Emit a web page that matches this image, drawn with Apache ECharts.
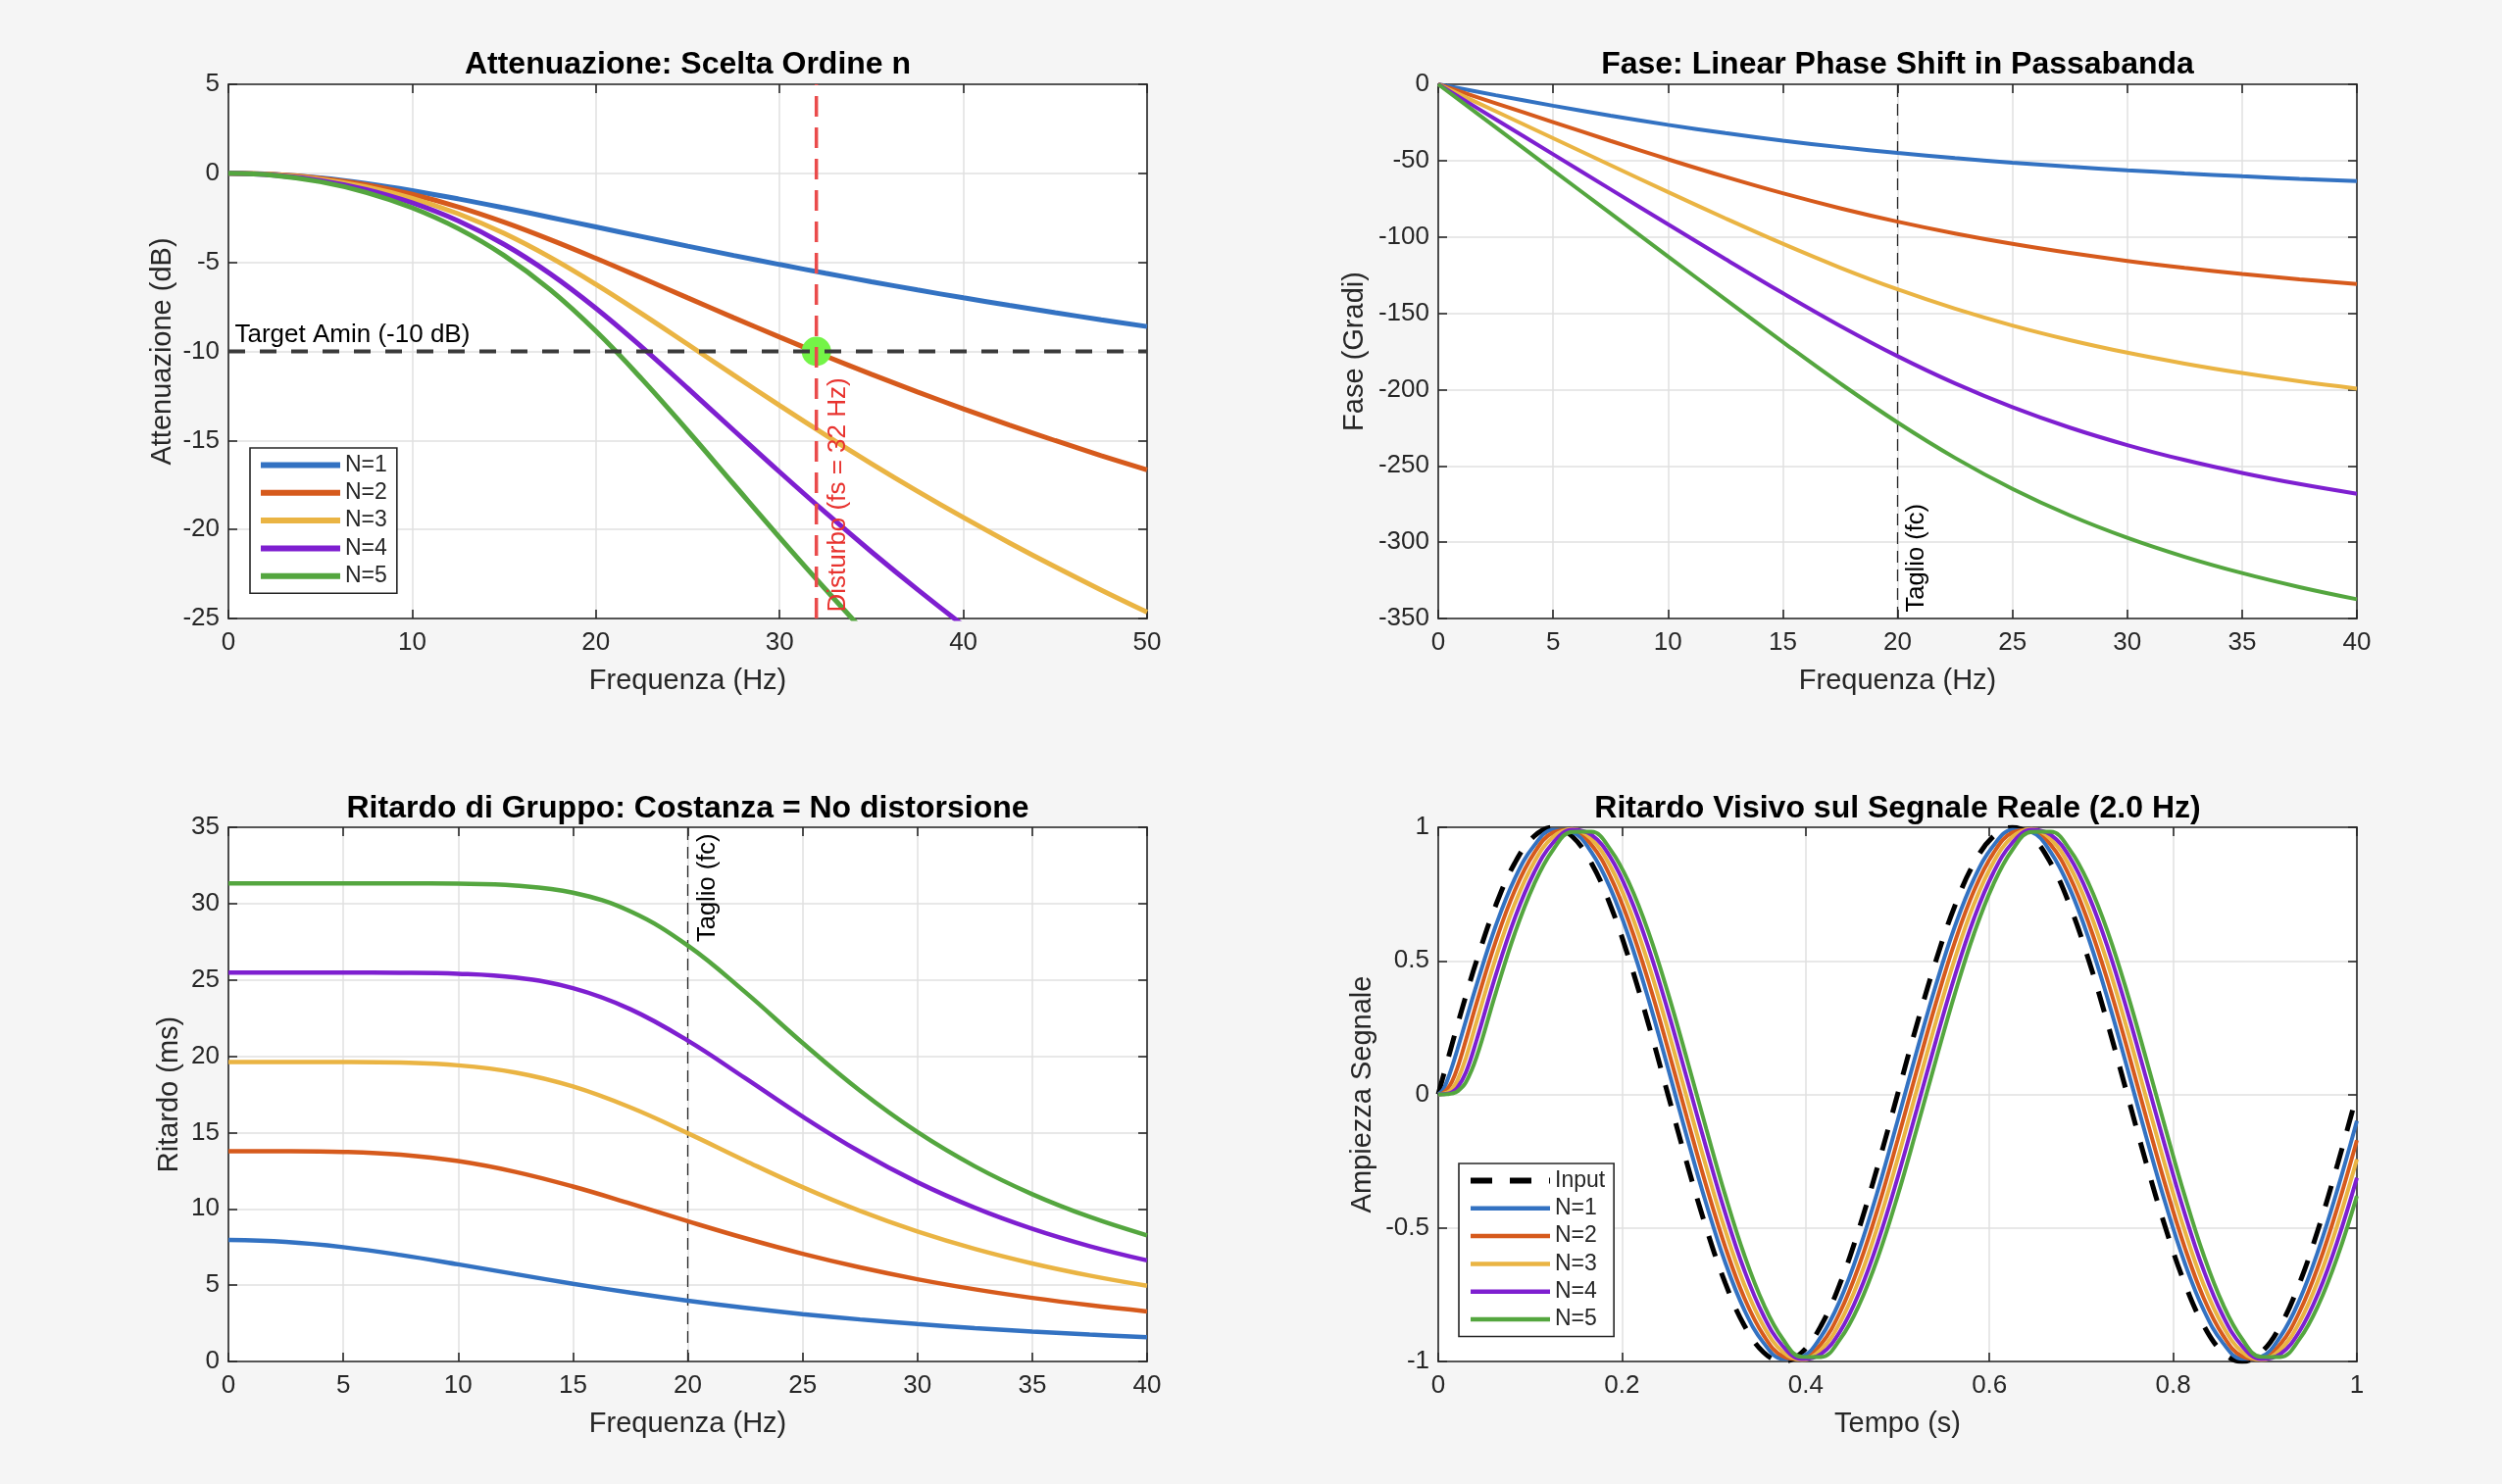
<!DOCTYPE html>
<html>
<head>
<meta charset="utf-8">
<script src="https://cdn.jsdelivr.net/npm/echarts@6.0.0/dist/echarts.min.js"></script>
<style>
html,body{margin:0;padding:0;background:#f5f5f5;}
#c{width:2552px;height:1514px;}
</style>
</head>
<body>
<div id="c"></div>
<script>
// ---------------- DATA ----------------
const seriesNames = ['N=1', 'N=2', 'N=3', 'N=4', 'N=5'];

// Attenuazione (dB) vs frequenza 0..50 Hz
const freqAtt = [0, 2.5, 5, 7.5, 10, 12.5, 15, 17.5, 20, 22.5, 25, 27.5, 30, 32.5, 35, 37.5, 40, 42.5, 45, 47.5, 50];
const attN1 = [0, -0.067, -0.263, -0.571, -0.969, -1.432, -1.938, -2.469, -3.010, -3.552, -4.087, -4.610, -5.119, -5.612, -6.088, -6.547, -6.990, -7.416, -7.827, -8.222, -8.603];
const attN2 = [0, -0.068, -0.279, -0.646, -1.181, -1.884, -2.739, -3.714, -4.771, -5.874, -6.993, -8.106, -9.197, -10.259, -11.284, -12.273, -13.222, -14.134, -15.009, -15.850, -16.657];
const attN3 = [0, -0.083, -0.335, -0.768, -1.403, -2.267, -3.373, -4.711, -6.236, -7.887, -9.602, -11.330, -13.037, -14.699, -16.304, -17.848, -19.327, -20.744, -22.100, -23.399, -24.643];
const attN4 = [0, -0.100, -0.401, -0.915, -1.660, -2.670, -3.986, -5.630, -7.578, -9.757, -12.071, -14.430, -16.771, -19.054, -21.256, -23.369, -25.389, -27.320, -29.16, -30.93, -32.61];
const attN5 = [0, -0.117, -0.471, -1.071, -1.935, -3.098, -4.611, -6.528, -8.862, -11.548, -14.458, -17.459, -20.448, -23.364, -26.174, -28.864, -31.43, -33.88, -36.22, -38.45, -40.57];

// Fase (gradi) e ritardo di gruppo (ms) vs frequenza 0..40 Hz
const freqPh = [0, 2.5, 5, 7.5, 10, 12.5, 15, 17.5, 20, 22.5, 25, 27.5, 30, 32.5, 35, 37.5, 40];
const phN1 = [0, -7.125, -14.036, -20.556, -26.565, -32.005, -36.870, -41.186, -45, -48.366, -51.340, -53.973, -56.310, -58.392, -60.255, -61.928, -63.435];
const phN2 = [0, -12.404, -24.791, -37.082, -49.107, -60.624, -71.388, -81.209, -90, -97.762, -104.563, -110.498, -115.693, -120.235, -124.230, -127.763, -130.893];
const phN3 = [0, -17.663, -35.326, -52.970, -70.528, -87.808, -104.471, -120.103, -134.341, -146.991, -158.039, -167.600, -175.854, -182.991, -189.189, -194.601, -199.360];
const phN4 = [0, -22.926, -45.852, -68.776, -91.675, -114.449, -136.817, -158.261, -178.152, -195.981, -211.549, -224.934, -236.374, -246.168, -254.593, -261.888, -268.255];
const phN5 = [0, -28.191, -56.383, -84.574, -112.759, -140.893, -168.788, -195.951, -221.562, -244.760, -265.044, -282.392, -297.104, -309.590, -320.249, -329.422, -337.385];

const gdN1 = [7.958, 7.835, 7.490, 6.977, 6.366, 5.722, 5.093, 4.507, 3.979, 3.512, 3.105, 2.753, 2.449, 2.186, 1.959, 1.762, 1.592];
const gdN2 = [13.783, 13.780, 13.733, 13.548, 13.127, 12.420, 11.462, 10.348, 9.189, 8.074, 7.058, 6.163, 5.389, 4.728, 4.166, 3.688, 3.282];
const gdN3 = [19.626, 19.625, 19.621, 19.580, 19.403, 18.931, 18.019, 16.648, 14.956, 13.153, 11.420, 9.862, 8.516, 7.377, 6.424, 5.628, 4.961];
const gdN4 = [25.473, 25.473, 25.473, 25.465, 25.406, 25.153, 24.455, 23.079, 21.024, 18.562, 16.048, 13.739, 11.743, 10.073, 8.693, 7.558, 6.620];
const gdN5 = [31.324, 31.324, 31.324, 31.323, 31.304, 31.184, 30.714, 29.491, 27.253, 24.202, 20.873, 17.740, 15.032, 12.789, 10.961, 9.475, 8.261];

// Segnale nel tempo (2.0 Hz)
const tempo = [0, 0.005, 0.01, 0.015, 0.0208, 0.03, 0.0417, 0.0625, 0.0833, 0.1042, 0.125, 0.1458, 0.1667, 0.1875, 0.2083, 0.2292, 0.25, 0.2708, 0.2917, 0.3125, 0.3333, 0.3542, 0.375, 0.3958, 0.4167, 0.4375, 0.4583, 0.4792, 0.5, 0.5208, 0.5417, 0.5625, 0.5833, 0.6042, 0.625, 0.6458, 0.6667, 0.6875, 0.7083, 0.7292, 0.75, 0.7708, 0.7917, 0.8125, 0.8333, 0.8542, 0.875, 0.8958, 0.9167, 0.9375, 0.9583, 0.9792, 1];
const inputSig = [0, 0.0628, 0.1253, 0.1874, 0.2588, 0.3681, 0.5, 0.7071, 0.866, 0.9659, 1, 0.9659, 0.866, 0.7071, 0.5, 0.2588, 0, -0.2588, -0.5, -0.7071, -0.866, -0.9659, -1, -0.9659, -0.866, -0.7071, -0.5, -0.2588, 0, 0.2588, 0.5, 0.7071, 0.866, 0.9659, 1, 0.9659, 0.866, 0.7071, 0.5, 0.2588, 0, -0.2588, -0.5, -0.7071, -0.866, -0.9659, -1, -0.9659, -0.866, -0.7071, -0.5, -0.2588, 0];
const outN1 = [0, 0.0162, 0.054, 0.1033, 0.1678, 0.2747, 0.4098, 0.6301, 0.8079, 0.9307, 0.9901, 0.982, 0.907, 0.7701, 0.5808, 0.3519, 0.099, -0.1606, -0.4093, -0.6301, -0.8079, -0.9307, -0.9901, -0.982, -0.907, -0.7701, -0.5808, -0.3519, -0.099, 0.1606, 0.4093, 0.6301, 0.8079, 0.9307, 0.9901, 0.982, 0.907, 0.7701, 0.5808, 0.3519, 0.099, -0.1606, -0.4093, -0.6301, -0.8079, -0.9307, -0.9901, -0.982, -0.907, -0.7701, -0.5808, -0.3519, -0.099];
const outN2 = [0, 0.005, 0.0206, 0.048, 0.0983, 0.2021, 0.3416, 0.5718, 0.7631, 0.9023, 0.9801, 0.9911, 0.9345, 0.8143, 0.6386, 0.4193, 0.1715, -0.088, -0.3416, -0.5718, -0.7631, -0.9023, -0.9801, -0.9911, -0.9345, -0.8143, -0.6386, -0.4193, -0.1715, 0.088, 0.3416, 0.5718, 0.7631, 0.9023, 0.9801, 0.9911, 0.9345, 0.8143, 0.6386, 0.4193, 0.1715, -0.088, -0.3416, -0.5718, -0.7631, -0.9023, -0.9801, -0.9911, -0.9345, -0.8143, -0.6386, -0.4193, -0.1715];
const outN3 = [0, 0.0021, 0.0076, 0.021, 0.052, 0.1356, 0.272, 0.51, 0.7134, 0.8682, 0.9639, 0.9938, 0.956, 0.8531, 0.6921, 0.4838, 0.2426, -0.0151, -0.2718, -0.51, -0.7134, -0.8682, -0.9639, -0.9938, -0.956, -0.8531, -0.6921, -0.4838, -0.2426, 0.0151, 0.2718, 0.51, 0.7134, 0.8682, 0.9639, 0.9938, 0.956, 0.8531, 0.6921, 0.4838, 0.2426, -0.0151, -0.2718, -0.51, -0.7134, -0.8682, -0.9639, -0.9938, -0.956, -0.8531, -0.6921, -0.4838, -0.2426];
const outN4 = [0, 0.0006, 0.0027, 0.0085, 0.0247, 0.0816, 0.2028, 0.4454, 0.6598, 0.8293, 0.9423, 0.991, 0.9722, 0.8872, 0.7417, 0.5456, 0.3124, 0.0579, -0.2006, -0.4454, -0.6598, -0.8293, -0.9423, -0.991, -0.9722, -0.8872, -0.7417, -0.5456, -0.3124, -0.0579, 0.2006, 0.4454, 0.6598, 0.8293, 0.9423, 0.991, 0.9722, 0.8872, 0.7417, 0.5456, 0.3124, 0.0579, -0.2006, -0.4454, -0.6598, -0.8293, -0.9423, -0.991, -0.9722, -0.8872, -0.7417, -0.5456, -0.3124];
const outN5 = [0, 0.0002, 0.0009, 0.0032, 0.0108, 0.0445, 0.1396, 0.3786, 0.6028, 0.786, 0.9156, 0.9828, 0.9831, 0.9163, 0.7871, 0.6043, 0.3803, 0.1303, -0.1285, -0.3786, -0.6028, -0.786, -0.9156, -0.9828, -0.9831, -0.9163, -0.7871, -0.6043, -0.3803, -0.1303, 0.1285, 0.3786, 0.6028, 0.786, 0.9156, 0.9828, 0.9831, 0.9163, 0.7871, 0.6043, 0.3803, 0.1303, -0.1285, -0.3786, -0.6028, -0.786, -0.9156, -0.9828, -0.9831, -0.9163, -0.7871, -0.6043, -0.3803];

// Riferimenti
const targetAmin = -10;
const fDisturbo = 32;
const fTaglio = 20;

// ---------------- STYLE ----------------
const FONT = '"Liberation Sans", Arial, Helvetica, sans-serif';
const TXT = '#262626';
const colors = ['#3372c2', '#d65a1c', '#eab443', '#7e1fd0', '#54a63f'];

const grids = [
  {left: 233, top: 86, width: 937, height: 545},
  {left: 1467, top: 86, width: 937, height: 545},
  {left: 233, top: 844, width: 937, height: 545},
  {left: 1467, top: 844, width: 937, height: 545}
].map(g => Object.assign({show: true, backgroundColor: '#ffffff', borderWidth: 0, outerBoundsMode: 'none', containLabel: false}, g));

const lineAx = {show: true, onZero: false, lineStyle: {color: TXT, width: 1.6}};
const tickAx = {show: true, inside: true, length: 9, lineStyle: {color: TXT, width: 1.6}};
const splitAx = {show: true, lineStyle: {color: '#e1e1e1', width: 1.5}};

const xAxes = [], yAxes = [];
function addAxes(gi, xr, yr, xName, yName, yGap) {
  xAxes.push({type: 'value', gridIndex: gi, position: 'bottom', min: xr[0], max: xr[1], interval: xr[2],
    name: xName, nameLocation: 'middle', nameGap: 49, nameMoveOverlap: false,
    nameTextStyle: {fontSize: 29, color: TXT, fontFamily: FONT},
    axisLine: lineAx, axisTick: tickAx, splitLine: splitAx,
    axisLabel: {fontSize: 26, color: TXT, margin: 12, fontFamily: FONT}});
  xAxes.push({type: 'value', gridIndex: gi, position: 'top', min: xr[0], max: xr[1], interval: xr[2],
    axisLine: lineAx, axisTick: tickAx, splitLine: {show: false}, axisLabel: {show: false}});
  yAxes.push({type: 'value', gridIndex: gi, position: 'left', min: yr[0], max: yr[1], interval: yr[2],
    name: yName, nameLocation: 'middle', nameGap: yGap, nameMoveOverlap: false,
    nameTextStyle: {fontSize: 29, color: TXT, fontFamily: FONT},
    axisLine: lineAx, axisTick: tickAx, splitLine: splitAx,
    axisLabel: {fontSize: 26, color: TXT, margin: 9, fontFamily: FONT}});
  yAxes.push({type: 'value', gridIndex: gi, position: 'right', min: yr[0], max: yr[1], interval: yr[2],
    axisLine: lineAx, axisTick: tickAx, splitLine: {show: false}, axisLabel: {show: false}});
}
addAxes(0, [0, 50, 10], [-25, 5, 5], 'Frequenza (Hz)', 'Attenuazione (dB)', 53);
addAxes(1, [0, 40, 5], [-350, 0, 50], 'Frequenza (Hz)', 'Fase (Gradi)', 71);
addAxes(2, [0, 40, 5], [0, 35, 5], 'Frequenza (Hz)', 'Ritardo (ms)', 46);
addAxes(3, [0, 1, 0.2], [-1, 1, 0.5], 'Tempo (s)', 'Ampiezza Segnale', 63);

function zip(xs, ys) { return xs.map((x, i) => [x, ys[i]]); }
function curve(name, gi, xs, ys, color, width, extra) {
  return Object.assign({
    type: 'line', name: name, xAxisIndex: gi * 2, yAxisIndex: gi * 2,
    data: zip(xs, ys), symbol: 'none', showSymbol: false, smooth: 0.4,
    lineStyle: {color: color, width: width}, itemStyle: {color: color},
    emphasis: {disabled: true}, z: 3, animation: false
  }, extra || {});
}
function refLine(gi, pts, color, width, dash, z) {
  return {type: 'line', xAxisIndex: gi * 2, yAxisIndex: gi * 2, data: pts, symbol: 'none',
    lineStyle: {color: color, width: width, type: dash}, silent: true, z: z || 5, animation: false,
    emphasis: {disabled: true}};
}
function note(gi, pt, text, lab) {
  return {type: 'scatter', xAxisIndex: gi * 2, yAxisIndex: gi * 2, data: [pt], symbol: 'circle', symbolSize: 1,
    itemStyle: {color: 'rgba(0,0,0,0)', opacity: 1}, silent: true, clip: false, z: 8, animation: false,
    emphasis: {disabled: true},
    label: Object.assign({show: true, formatter: text, fontFamily: FONT, opacity: 1}, lab)};
}

const attAll = [attN1, attN2, attN3, attN4, attN5];
const phAll = [phN1, phN2, phN3, phN4, phN5];
const gdAll = [gdN1, gdN2, gdN3, gdN4, gdN5];
const outAll = [outN1, outN2, outN3, outN4, outN5];

const series = [];
// Panel 1
attAll.forEach((a, i) => series.push(curve(seriesNames[i], 0, freqAtt, a, colors[i], 5)));
series.push({type: 'scatter', xAxisIndex: 0, yAxisIndex: 0, data: [[fDisturbo, targetAmin]], symbolSize: 30,
  itemStyle: {color: '#74f447', opacity: 1}, silent: true, z: 4, animation: false, emphasis: {disabled: true}});
series.push(refLine(0, [[freqAtt[0], targetAmin], [freqAtt[freqAtt.length - 1], targetAmin]], '#3a3a3a', 4, [17, 15], 5));
series.push(refLine(0, [[fDisturbo, -25], [fDisturbo, 5]], '#ea4b4b', 3.5, [21, 11], 5));
series.push(note(0, [0, targetAmin], 'Target Amin (-10 dB)', {position: [7, -3], align: 'left', verticalAlign: 'bottom', fontSize: 26, color: '#000'}));
series.push(note(0, [fDisturbo, -25], 'Disturbo (fs = 32 Hz)', {position: [23, -6], rotate: 90, align: 'left', verticalAlign: 'middle', fontSize: 26, color: '#e8332f'}));
// Panel 2
phAll.forEach((a, i) => series.push(curve(seriesNames[i], 1, freqPh, a, colors[i], 4)));
series.push(refLine(1, [[fTaglio, -350], [fTaglio, 0]], TXT, 1.3, [12, 7], 2));
series.push(note(1, [fTaglio, -350], 'Taglio (fc)', {position: [20, -6], rotate: 90, align: 'left', verticalAlign: 'middle', fontSize: 25.5, color: '#000'}));
// Panel 3
gdAll.forEach((a, i) => series.push(curve(seriesNames[i], 2, freqPh, a, colors[i], 4.5)));
series.push(refLine(2, [[fTaglio, 0], [fTaglio, 35]], TXT, 1.3, [12, 7], 2));
series.push(note(2, [fTaglio, 35], 'Taglio (fc)', {position: [20.5, 7], rotate: 90, align: 'right', verticalAlign: 'middle', fontSize: 25.5, color: '#000'}));
// Panel 4
series.push(curve('Input', 3, tempo, inputSig, '#000000', 5, {lineStyle: {color: '#000000', width: 5, type: [22, 18]}, z: 2}));
outAll.forEach((a, i) => series.push(curve(seriesNames[i], 3, tempo, a, colors[i], 4)));

const titleStyle = {fontSize: 32, fontWeight: 'bold', color: '#000', fontFamily: FONT};
const titles = [
  {text: 'Attenuazione: Scelta Ordine n', left: 701.5, top: 50},
  {text: 'Fase: Linear Phase Shift in Passabanda', left: 1935.5, top: 50},
  {text: 'Ritardo di Gruppo: Costanza = No distorsione', left: 701.5, top: 809},
  {text: 'Ritardo Visivo sul Segnale Reale (2.0 Hz)', left: 1935.5, top: 809}
].map(t => Object.assign({textAlign: 'center', textStyle: titleStyle, padding: 0}, t));

const legendBase = {
  orient: 'vertical', itemWidth: 81, itemHeight: 24, itemGap: 5.3,
  backgroundColor: '#ffffff', borderColor: TXT, borderWidth: 1.6, borderRadius: 0,
  itemStyle: {opacity: 0, color: 'rgba(0,0,0,0)', borderWidth: 0},
  textStyle: {fontSize: 23, color: TXT, fontFamily: FONT}, selectedMode: false
};
const legends = [
  Object.assign({}, legendBase, {data: seriesNames, left: 255, top: 457, padding: [6, 10, 6, 8], lineStyle: {width: 6}}),
  Object.assign({}, legendBase, {data: [{name: 'Input', lineStyle: {width: 6}}].concat(seriesNames), left: 1488, top: 1187, padding: [6, 9, 6, 9], lineStyle: {width: 4.5}})
];

const chart = echarts.init(document.getElementById('c'), null, {renderer: 'canvas', width: 2552, height: 1514});
chart.setOption({
  backgroundColor: '#f5f5f5',
  animation: false,
  title: titles,
  legend: legends,
  grid: grids,
  xAxis: xAxes,
  yAxis: yAxes,
  series: series
});
</script>
</body>
</html>
